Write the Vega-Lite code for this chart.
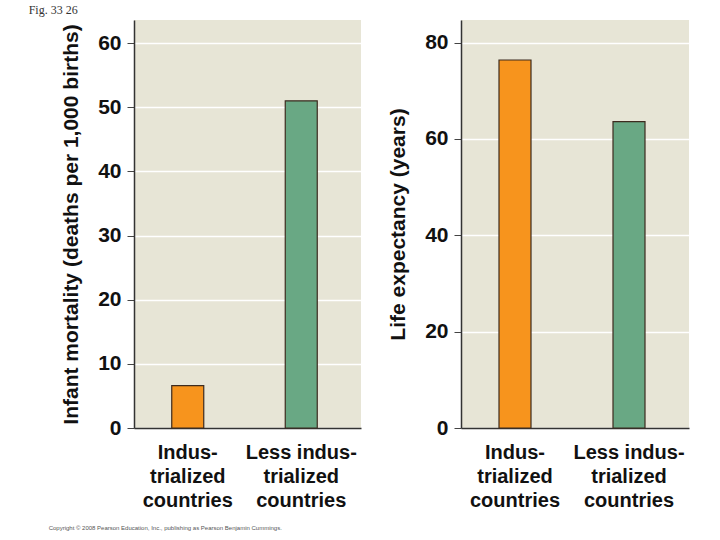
{
  "$schema": "https://vega.github.io/schema/vega-lite/v6.json",
  "background": "white",
  "padding": {"left": 28, "top": 4, "right": 5, "bottom": 5},
  "title": {
    "text": "Fig. 33 26",
    "anchor": "start",
    "frame": "bounds",
    "font": "Liberation Serif",
    "fontSize": 12,
    "fontWeight": "normal",
    "color": "#333333",
    "offset": 3,
    "dx": -20
  },
  "spacing": 26,
  "hconcat": [
    {
      "width": 227,
      "height": 408,
      "title": {
        "text": "Copyright © 2008 Pearson Education, Inc., publishing as Pearson Benjamin Cummings.",
        "orient": "bottom",
        "anchor": "start",
        "frame": "bounds",
        "font": "Liberation Sans",
        "fontSize": 6,
        "fontWeight": "normal",
        "color": "#555555",
        "offset": 15,
        "dx": -12
      },
      "data": {
        "values": [
          {"group": "Industrialized", "label": "Indus-|trialized|countries", "value": 6.6},
          {"group": "Less industrialized", "label": "Less indus-|trialized|countries", "value": 51.0}
        ]
      },
      "mark": {"type": "bar", "width": 32, "stroke": "#3d2b1f", "strokeWidth": 1.2, "xOffset": -3},
      "encoding": {
        "x": {
          "field": "label",
          "type": "nominal",
          "sort": null,
          "scale": {"paddingInner": 0, "paddingOuter": 0},
          "axis": {
            "title": null,
            "labelExpr": "split(datum.label, '|')",
            "labelAngle": 0,
            "ticks": false,
            "grid": false,
            "labelOffset": -3,
            "labelPadding": 14,
            "labelFontSize": 20,
            "labelLineHeight": 24,
            "labelFont": "Liberation Sans",
            "labelFontWeight": "bold",
            "labelColor": "#111111"
          }
        },
        "y": {
          "field": "value",
          "type": "quantitative",
          "scale": {"domain": [0, 63.6], "nice": false},
          "axis": {
            "title": "Infant mortality (deaths per 1,000 births)",
            "values": [0, 10, 20, 30, 40, 50, 60]
          }
        },
        "color": {
          "field": "group",
          "type": "nominal",
          "scale": {"domain": ["Industrialized", "Less industrialized"], "range": ["#f7941d", "#69a884"]},
          "legend": null
        }
      }
    },
    {
      "width": 228,
      "height": 408,
      "data": {
        "values": [
          {"group": "Industrialized", "label": "Indus-|trialized|countries", "value": 76.4},
          {"group": "Less industrialized", "label": "Less indus-|trialized|countries", "value": 63.6}
        ]
      },
      "mark": {"type": "bar", "width": 32, "stroke": "#3d2b1f", "strokeWidth": 1.2, "xOffset": -3},
      "encoding": {
        "x": {
          "field": "label",
          "type": "nominal",
          "sort": null,
          "scale": {"paddingInner": 0, "paddingOuter": 0},
          "axis": {
            "title": null,
            "labelExpr": "split(datum.label, '|')",
            "labelAngle": 0,
            "ticks": false,
            "grid": false,
            "labelOffset": -3,
            "labelPadding": 14,
            "labelFontSize": 20,
            "labelLineHeight": 24,
            "labelFont": "Liberation Sans",
            "labelFontWeight": "bold",
            "labelColor": "#111111"
          }
        },
        "y": {
          "field": "value",
          "type": "quantitative",
          "scale": {"domain": [0, 84.7], "nice": false},
          "axis": {
            "title": "Life expectancy (years)",
            "values": [0, 20, 40, 60, 80]
          }
        },
        "color": {
          "field": "group",
          "type": "nominal",
          "scale": {"domain": ["Industrialized", "Less industrialized"], "range": ["#f7941d", "#69a884"]},
          "legend": null
        }
      }
    }
  ],
  "config": {
    "view": {"fill": "#e7e5d6", "stroke": null},
    "axis": {
      "domainColor": "#333333",
      "domainWidth": 1.5,
      "tickColor": "#444444",
      "tickSize": 7,
      "tickWidth": 1,
      "gridColor": "#ffffff",
      "gridWidth": 1.5,
      "labelFont": "Liberation Sans",
      "labelFontSize": 21,
      "labelFontWeight": "bold",
      "labelColor": "#111111",
      "labelPadding": 6,
      "titleFont": "Liberation Sans",
      "titleFontSize": 21,
      "titleFontWeight": "bold",
      "titleColor": "#111111",
      "titlePadding": 16
    }
  }
}
